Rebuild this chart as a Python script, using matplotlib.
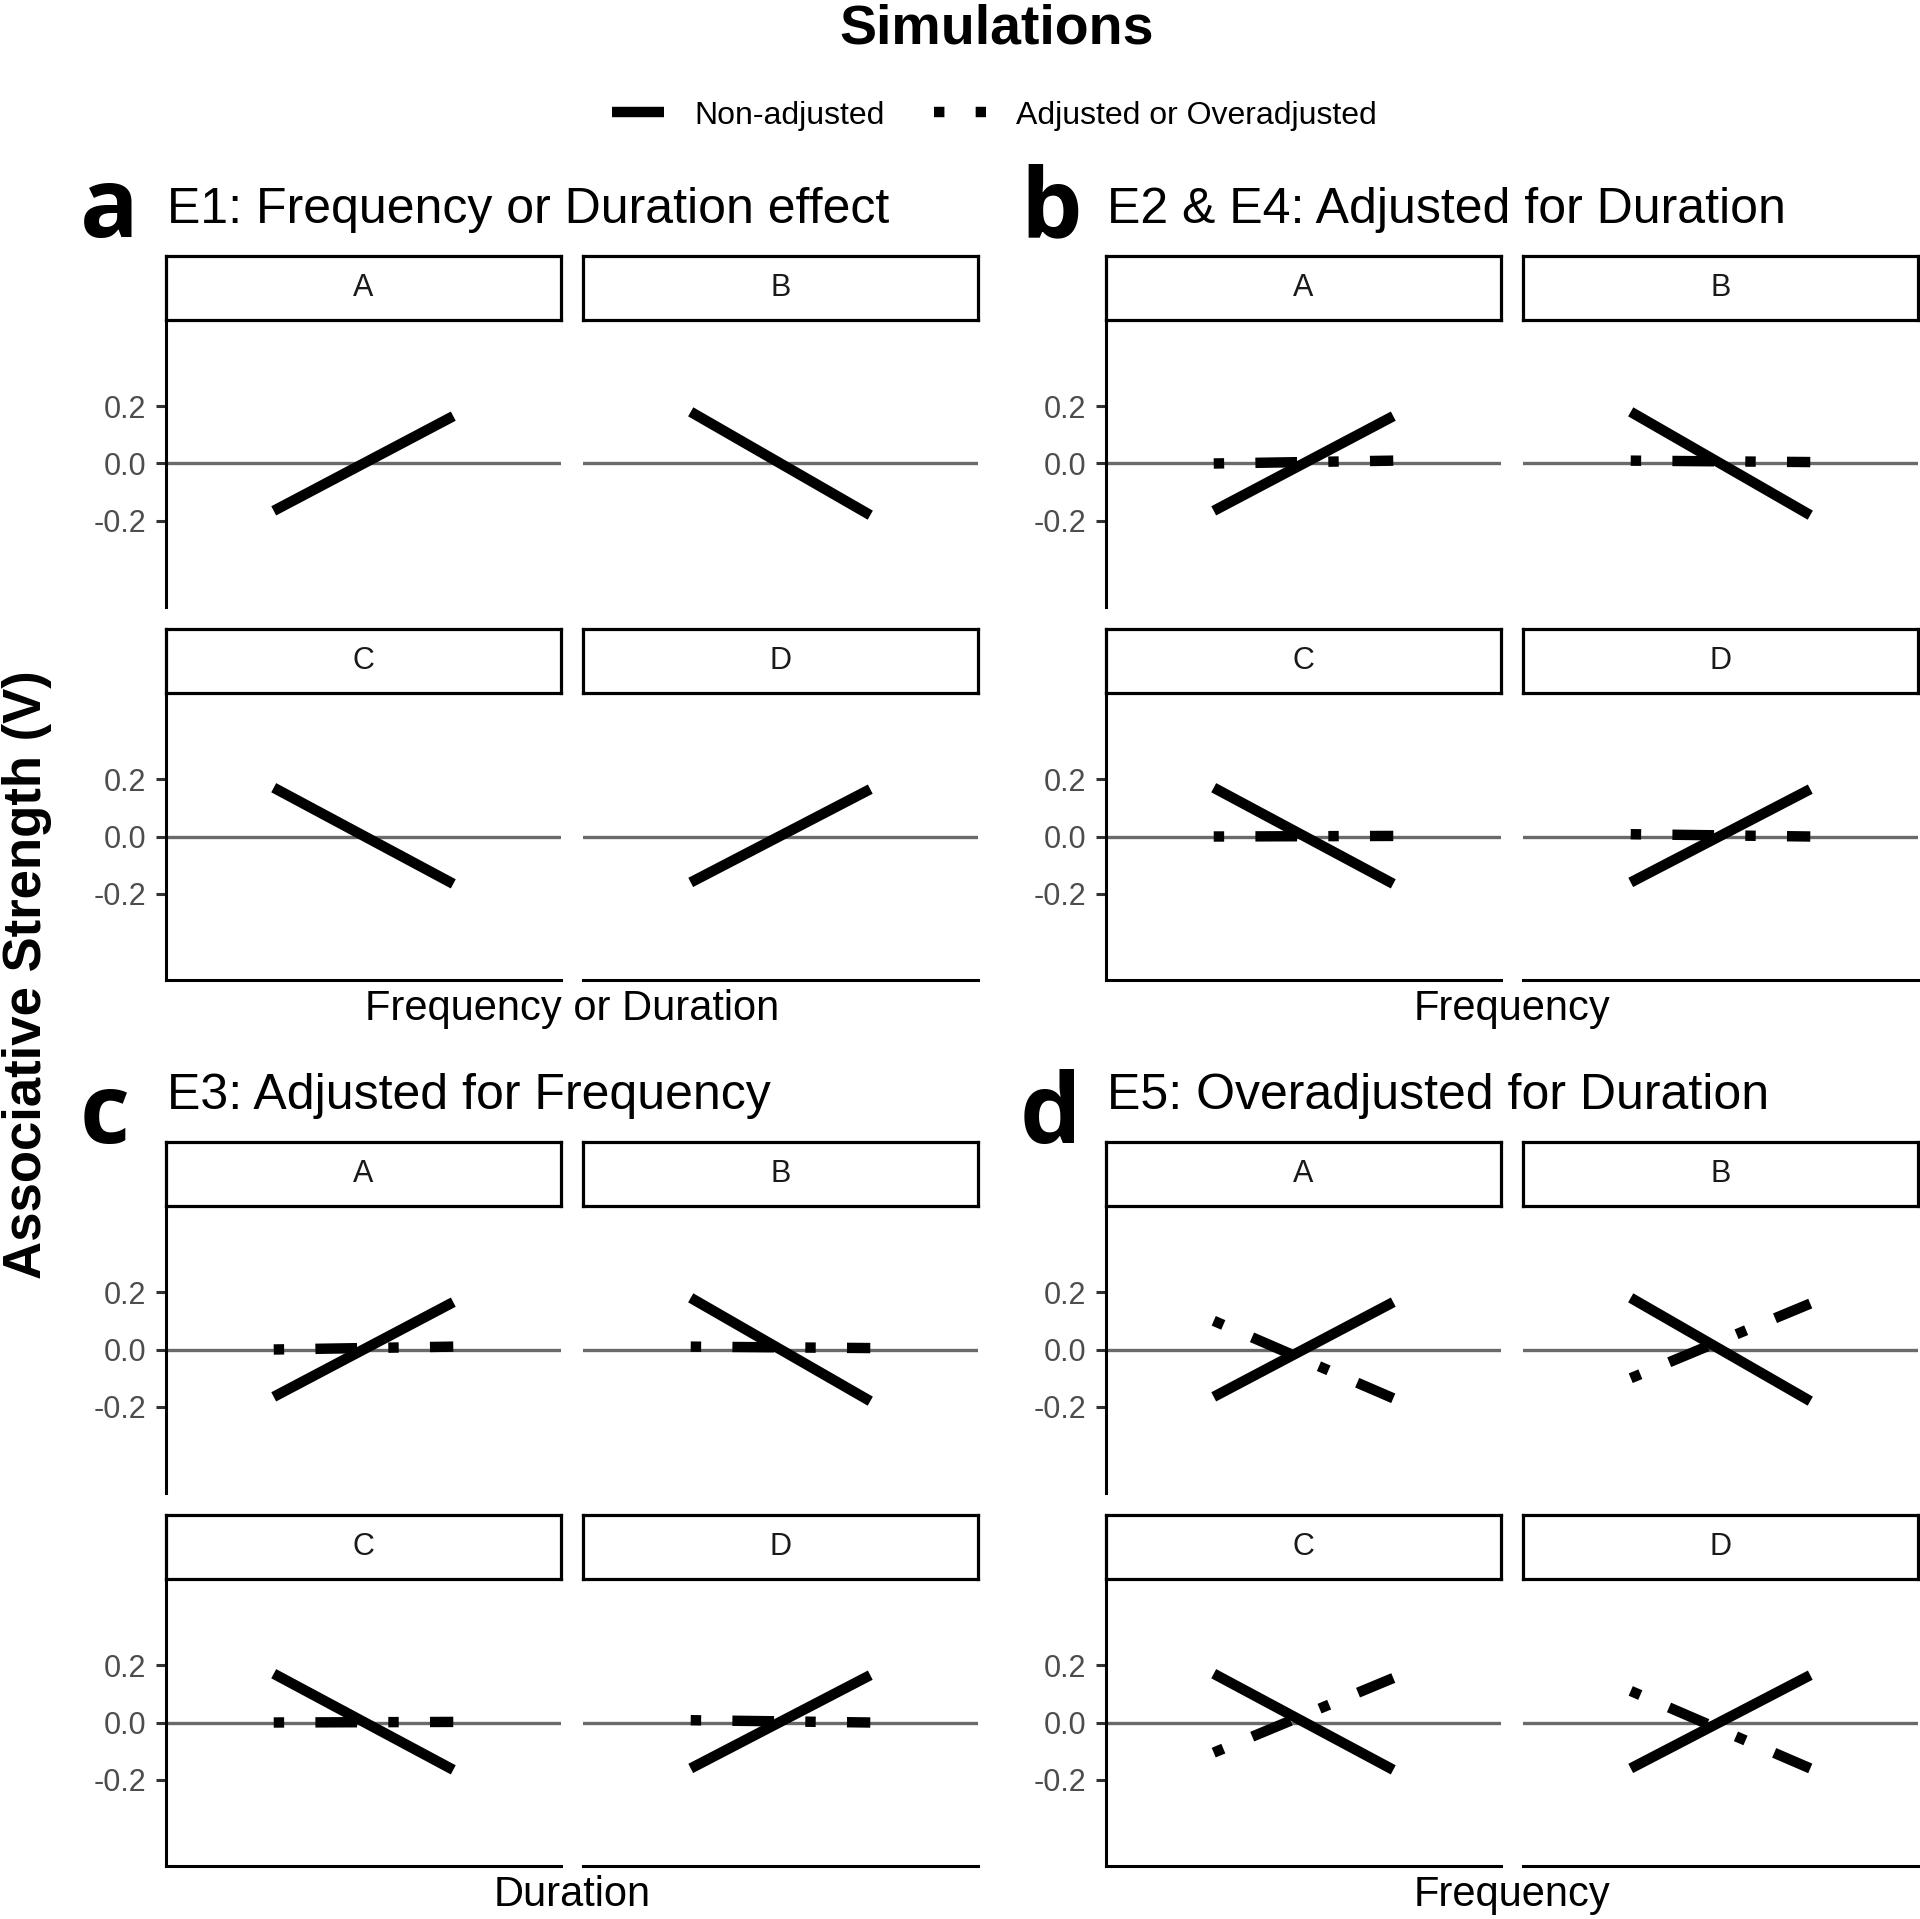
import matplotlib
matplotlib.use("Agg")
import matplotlib.pyplot as plt
from matplotlib.lines import Line2D

# ---------------- data ----------------
levels = ["Low", "High"]                 # two discrete x levels
facets = ["A", "B", "C", "D"]
y_ticks = [-0.2, 0.0, 0.2]
y_tick_labels = ["-0.2", "0.0", "0.2"]

# Non-adjusted (solid) lines, identical in every experiment
non_adj_A = [-0.165, 0.165]
non_adj_B = [0.18, -0.18]
non_adj_C = [0.17, -0.165]
non_adj_D = [-0.16, 0.165]

# E2 & E4: adjusted for duration (dot-dash)
adj_dur_A = [0.0, 0.01]
adj_dur_B = [0.01, 0.005]
adj_dur_C = [0.0, 0.002]
adj_dur_D = [0.008, 0.0]

# E3: adjusted for frequency (dot-dash)
adj_freq_A = [0.0, 0.01]
adj_freq_B = [0.01, 0.005]
adj_freq_C = [0.0, 0.002]
adj_freq_D = [0.008, 0.0]

# E5: overadjusted for duration (dot-dash)
over_dur_A = [0.10, -0.17]
over_dur_B = [-0.10, 0.16]
over_dur_C = [-0.105, 0.155]
over_dur_D = [0.11, -0.16]

group_letters = ["a", "b", "c", "d"]
group_titles = ["E1: Frequency or Duration effect",
                "E2 & E4: Adjusted for Duration",
                "E3: Adjusted for Frequency",
                "E5: Overadjusted for Duration"]
group_xlabels = ["Frequency or Duration", "Frequency", "Duration", "Frequency"]

non_adj = [non_adj_A, non_adj_B, non_adj_C, non_adj_D]
group_adjusted = [None,
                  [adj_dur_A, adj_dur_B, adj_dur_C, adj_dur_D],
                  [adj_freq_A, adj_freq_B, adj_freq_C, adj_freq_D],
                  [over_dur_A, over_dur_B, over_dur_C, over_dur_D]]

# ---------------- layout ----------------
FW, FH = 1920, 1919
fig = plt.figure(figsize=(FW / 100, FH / 100), dpi=100)
fig.patch.set_facecolor("white")

FONT = "Liberation Sans"
LW = 7.5
DOTDASH = (0, (1, 3, 4, 3))
ZERO_COL = "#6a6a6a"

def rect(x0, y0, w, h):
    return [x0 / FW, 1 - (y0 + h) / FH, w / FW, h / FH]

def fx(px):
    return px / FW

def fy(py):
    return 1 - py / FH

PW = 395
STRIP_H = 64
PANEL_H = 287
ROW_GAP = 22
group_x = [166, 1106, 166, 1106]
group_y = [256, 256, 1142, 1142]
COL_OFF = 417

for g in range(4):
    gx, gy = group_x[g], group_y[g]
    for i, fac in enumerate(facets):
        col, row = i % 2, i // 2
        x0 = gx + col * COL_OFF
        sy = gy + row * (STRIP_H + PANEL_H + ROW_GAP)
        py = sy + STRIP_H
        # strip
        sax = fig.add_axes(rect(x0, sy, PW, STRIP_H))
        sax.set_xticks([]); sax.set_yticks([])
        for sp in sax.spines.values():
            sp.set_linewidth(2.3); sp.set_color("black")
        sax.text(0.5, 0.5, fac, ha="center", va="center", fontsize=22,
                 color="#1a1a1a", family=FONT, transform=sax.transAxes)
        # panel
        ax = fig.add_axes(rect(x0, py, PW, PANEL_H))
        ax.set_facecolor("none")
        ax.axhline(0, color=ZERO_COL, lw=2.4, zorder=1)
        adj = group_adjusted[g]
        if adj is not None:
            ax.plot(levels, adj[i], color="black", lw=LW, linestyle=DOTDASH,
                    dash_capstyle="butt", zorder=2)
        ax.plot(levels, non_adj[i], color="black", lw=LW,
                solid_capstyle="butt", zorder=3)
        ax.set_xlim(-0.6, 1.6)
        ax.set_ylim(-0.5, 0.5)
        ax.set_xticks([])
        for s in ["top", "right"]:
            ax.spines[s].set_visible(False)
        ax.spines["left"].set_visible(col == 0)
        ax.spines["bottom"].set_visible(row == 1)
        for s in ["left", "bottom"]:
            ax.spines[s].set_linewidth(2.2)
            ax.spines[s].set_color("black")
        if col == 0:
            ax.set_yticks(y_ticks)
            ax.set_yticklabels(y_tick_labels, family=FONT, fontsize=22,
                               color="#4d4d4d")
            ax.tick_params(axis="y", length=7.2, width=2.2, color="#333333",
                           pad=7)
        else:
            ax.set_yticks([])
    # group title, letter, x label
    fig.text(fx(gx + 1), fy(gy - 33), group_titles[g], family=FONT,
             fontsize=36, ha="left", va="baseline", color="black")
    letter_base = gy - 19 if g < 2 else gy + 1
    fig.text(fx(gx - 86), fy(letter_base), group_letters[g],
             family="Open Sans", fontweight="bold", fontsize=70,
             ha="left", va="baseline", color="black")
    fig.text(fx(gx + (COL_OFF + PW) / 2), fy(gy + 764), group_xlabels[g],
             family=FONT, fontsize=30, ha="center", va="baseline",
             color="black")

# overall title
fig.text(fx(997), fy(43), "Simulations", family=FONT, fontweight="bold",
         fontsize=40, ha="center", va="baseline")

# y label
fig.text(fx(27), fy(975), "Associative Strength (V)", family=FONT,
         fontweight="bold", fontsize=38, rotation=90, ha="center",
         va="center")

# legend (manual, ggplot-like)
lax = fig.add_axes([0, 0, 1, 1])
lax.set_xlim(0, FW); lax.set_ylim(FH, 0)
lax.axis("off")
lax.add_line(Line2D([612, 664], [112, 112], color="black", lw=LW,
                    solid_capstyle="butt"))
lax.add_line(Line2D([934, 986], [112, 112], color="black", lw=LW,
                    linestyle=DOTDASH, dash_capstyle="butt"))
lax.text(694, 124, "Non-adjusted", family=FONT, fontsize=23,
         ha="left", va="baseline")
lax.text(1016, 124, "Adjusted or Overadjusted", family=FONT, fontsize=23,
         ha="left", va="baseline")

fig.savefig("out.png", dpi=100, facecolor="white")
